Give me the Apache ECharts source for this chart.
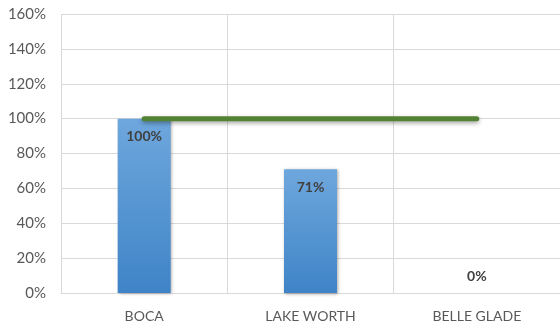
<!DOCTYPE html>
<html>
<head>
<meta charset="utf-8">
<script src="https://cdn.jsdelivr.net/npm/echarts@6/dist/echarts.min.js"></script>
<style>
  html, body { margin: 0; padding: 0; background: #fff; }
  #chart { width: 560px; height: 325px; }
</style>
</head>
<body>
<div id="chart"></div>
<script>
// Site names and percentages
const categories = ['BOCA', 'LAKE WORTH', 'BELLE GLADE'];
const actualPct = [100, 71, 0];
const targetPct = [100, 100, 100];
const yTicks = { min: 0, max: 160, interval: 20 };

const chart = echarts.init(document.getElementById('chart'));

const barData = actualPct.map(v => {
  const item = { value: v };
  if (v === 0) {
    item.label = { position: 'top', distance: 10 };
  }
  return item;
});

chart.setOption({
  animation: false,
  textStyle: { fontFamily: 'Lato' },
  grid: { left: 61, right: -3, top: 14, bottom: 32 },
  xAxis: {
    type: 'category',
    data: categories,
    axisLine: { lineStyle: { color: '#d9d9d9', width: 1 } },
    axisTick: { show: false },
    axisLabel: { color: '#595959', fontSize: 14, margin: 16 },
    splitLine: { show: true, lineStyle: { color: '#d9d9d9', width: 1 } }
  },
  yAxis: {
    type: 'value',
    min: yTicks.min,
    max: yTicks.max,
    interval: yTicks.interval,
    axisLine: { show: false },
    axisTick: { show: false },
    axisLabel: { color: '#595959', fontSize: 15, margin: 15, formatter: '{value}%' },
    splitLine: { lineStyle: { color: '#d9d9d9', width: 1 } }
  },
  series: [
    {
      type: 'bar',
      data: barData,
      barWidth: 53,
      itemStyle: {
        color: new echarts.graphic.LinearGradient(0, 0, 0, 1, [
          { offset: 0, color: '#6ea7dd' },
          { offset: 1, color: '#3f84c7' }
        ]),
        shadowColor: 'rgba(0,0,0,0.35)',
        shadowBlur: 3,
        shadowOffsetX: 1,
        shadowOffsetY: 1
      },
      label: {
        show: true,
        position: 'insideTop',
        distance: 11,
        formatter: '{c}%',
        color: '#404040',
        fontWeight: 'bold',
        fontSize: 14
      },
      z: 2
    },
    {
      type: 'line',
      data: targetPct,
      symbol: 'none',
      lineStyle: {
        color: '#548235',
        width: 5,
        cap: 'round',
        shadowColor: 'rgba(0,0,0,0.35)',
        shadowBlur: 4,
        shadowOffsetY: 2
      },
      z: 3
    }
  ]
});
</script>
</body>
</html>
